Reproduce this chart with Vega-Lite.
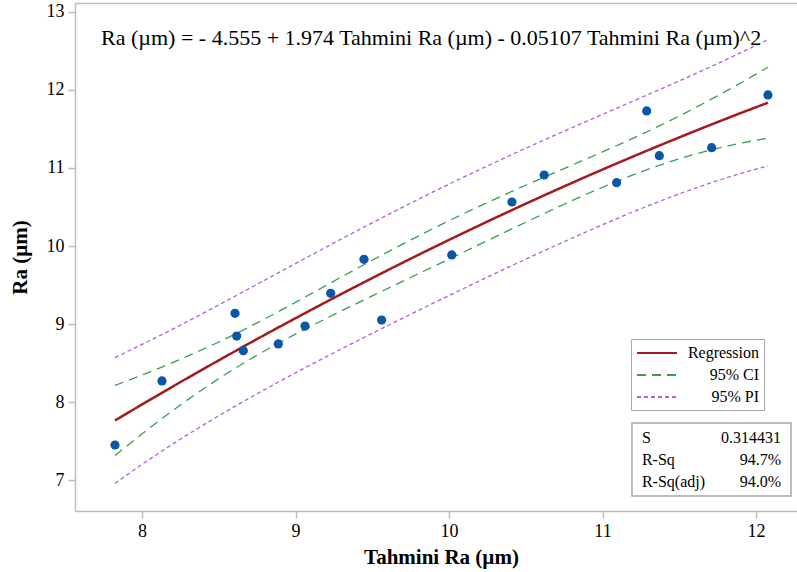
{
  "$schema": "https://vega.github.io/schema/vega-lite/v6.json",
  "width": 722,
  "height": 508,
  "autosize": {"type": "none"},
  "padding": {"left": 75, "top": 3, "right": 0, "bottom": 61},
  "background": "white",
  "config": {
    "font": "Liberation Serif, Times New Roman, serif",
    "view": {"stroke": null},
    "axis": {
      "grid": false, "domain": true, "domainColor": "#bcbcbc", "domainWidth": 1.5,
      "tickColor": "#bcbcbc", "tickWidth": 1.5, "tickSize": 7,
      "labelFont": "Liberation Serif, Times New Roman, serif", "labelFontSize": 18, "labelColor": "#000", "labelPadding": 4,
      "titleFont": "Liberation Serif, Times New Roman, serif", "titleFontSize": 21, "titleFontWeight": "bold", "titleColor": "#000"
    },
    "legend": {
      "orient": "none", "legendX": 556, "legendY": 336, "padding": 5,
      "strokeColor": "#a8a8a8", "fillColor": "white",
      "labelFont": "Liberation Serif, Times New Roman, serif", "labelFontSize": 16, "labelColor": "#000",
      "symbolType": "M-2.5,0H2.5", "symbolSize": 256, "symbolStrokeWidth": 2, "symbolOffset": 12,
      "labelAlign": "right", "labelOffset": 93, "rowPadding": 5
    }
  },
  "datasets": {
    "bands": [
      {"x": 7.824, "fit": 7.763, "ci_lo": 7.314, "ci_hi": 8.213, "pi_lo": 6.956, "pi_hi": 8.570},
      {"x": 7.9, "fit": 7.852, "ci_lo": 7.435, "ci_hi": 8.269, "pi_lo": 7.063, "pi_hi": 8.642},
      {"x": 8.0, "fit": 7.969, "ci_lo": 7.592, "ci_hi": 8.346, "pi_lo": 7.200, "pi_hi": 8.738},
      {"x": 8.125, "fit": 8.112, "ci_lo": 7.780, "ci_hi": 8.444, "pi_lo": 7.365, "pi_hi": 8.860},
      {"x": 8.25, "fit": 8.255, "ci_lo": 7.962, "ci_hi": 8.548, "pi_lo": 7.523, "pi_hi": 8.986},
      {"x": 8.5, "fit": 8.534, "ci_lo": 8.299, "ci_hi": 8.769, "pi_lo": 7.824, "pi_hi": 9.244},
      {"x": 8.75, "fit": 8.808, "ci_lo": 8.601, "ci_hi": 9.014, "pi_lo": 8.106, "pi_hi": 9.509},
      {"x": 9.0, "fit": 9.074, "ci_lo": 8.871, "ci_hi": 9.278, "pi_lo": 8.374, "pi_hi": 9.775},
      {"x": 9.25, "fit": 9.335, "ci_lo": 9.120, "ci_hi": 9.550, "pi_lo": 8.631, "pi_hi": 10.039},
      {"x": 9.5, "fit": 9.589, "ci_lo": 9.360, "ci_hi": 9.818, "pi_lo": 8.881, "pi_hi": 10.297},
      {"x": 9.75, "fit": 9.837, "ci_lo": 9.596, "ci_hi": 10.077, "pi_lo": 9.125, "pi_hi": 10.549},
      {"x": 10.0, "fit": 10.078, "ci_lo": 9.832, "ci_hi": 10.324, "pi_lo": 9.364, "pi_hi": 10.792},
      {"x": 10.25, "fit": 10.313, "ci_lo": 10.069, "ci_hi": 10.557, "pi_lo": 9.600, "pi_hi": 11.026},
      {"x": 10.5, "fit": 10.542, "ci_lo": 10.304, "ci_hi": 10.779, "pi_lo": 9.831, "pi_hi": 11.253},
      {"x": 10.75, "fit": 10.764, "ci_lo": 10.535, "ci_hi": 10.993, "pi_lo": 10.055, "pi_hi": 11.472},
      {"x": 11.0, "fit": 10.980, "ci_lo": 10.753, "ci_hi": 11.206, "pi_lo": 10.272, "pi_hi": 11.687},
      {"x": 11.25, "fit": 11.189, "ci_lo": 10.950, "ci_hi": 11.428, "pi_lo": 10.478, "pi_hi": 11.901},
      {"x": 11.5, "fit": 11.392, "ci_lo": 11.117, "ci_hi": 11.667, "pi_lo": 10.668, "pi_hi": 12.116},
      {"x": 11.75, "fit": 11.589, "ci_lo": 11.252, "ci_hi": 11.926, "pi_lo": 10.838, "pi_hi": 12.339},
      {"x": 11.875, "fit": 11.685, "ci_lo": 11.307, "ci_hi": 12.062, "pi_lo": 10.915, "pi_hi": 12.454},
      {"x": 12.0, "fit": 11.779, "ci_lo": 11.355, "ci_hi": 12.203, "pi_lo": 10.986, "pi_hi": 12.572},
      {"x": 12.078, "fit": 11.837, "ci_lo": 11.382, "ci_hi": 12.292, "pi_lo": 11.027, "pi_hi": 12.647}
    ],
    "points": [
      {"x": 7.824, "y": 7.449},
      {"x": 8.13, "y": 8.27},
      {"x": 8.606, "y": 9.137},
      {"x": 8.617, "y": 8.846},
      {"x": 8.66, "y": 8.658},
      {"x": 8.888, "y": 8.744},
      {"x": 9.062, "y": 8.974},
      {"x": 9.229, "y": 9.393},
      {"x": 9.446, "y": 9.829},
      {"x": 9.561, "y": 9.051},
      {"x": 10.018, "y": 9.885},
      {"x": 10.41, "y": 10.564},
      {"x": 10.62, "y": 10.91},
      {"x": 11.092, "y": 10.812},
      {"x": 11.288, "y": 11.731},
      {"x": 11.37, "y": 11.158},
      {"x": 11.711, "y": 11.26},
      {"x": 12.078, "y": 11.936}
    ]
  },
  "resolve": {"scale": {"stroke": "shared", "strokeDash": "shared", "x": "shared", "y": "shared"}, "axis": {"x": "independent"}},
  "layer": [
    {
      "data": {"name": "bands"},
      "mark": {"type": "line", "strokeWidth": 1.3, "interpolate": "monotone"},
      "encoding": {
        "x": {"field": "x", "type": "quantitative", "scale": {"domain": [7.5635, 12.2671], "nice": false, "zero": false}, "axis": {"values": [8, 9, 10, 11, 12], "format": "d", "title": "Tahmini Ra (µm)", "titlePadding": 6, "titleX": 366}},
        "y": {"field": "pi_lo", "type": "quantitative", "scale": {"domain": [6.603, 13.115], "nice": false, "zero": false}, "axis": {"values": [7, 8, 9, 10, 11, 12, 13], "format": "d", "title": "Ra (µm)", "titlePadding": 16}},
        "stroke": {"datum": "95% PI", "type": "nominal", "scale": {"domain": ["Regression", "95% CI", "95% PI"], "range": ["#a11b1f", "#3a9e4f", "#b25ede"]}, "legend": {"title": null}},
        "strokeDash": {"datum": "95% PI", "type": "nominal", "scale": {"domain": ["Regression", "95% CI", "95% PI"], "range": [[1, 0], [9, 6], [4, 3]]}, "legend": {"title": null}}
      }
    },
    {
      "data": {"name": "bands"},
      "mark": {"type": "line", "strokeWidth": 1.3, "interpolate": "monotone"},
      "encoding": {
        "x": {"field": "x", "type": "quantitative", "axis": null},
        "y": {"field": "pi_hi", "type": "quantitative"},
        "stroke": {"datum": "95% PI", "type": "nominal"},
        "strokeDash": {"datum": "95% PI", "type": "nominal"}
      }
    },
    {
      "data": {"name": "bands"},
      "mark": {"type": "line", "strokeWidth": 1.3, "interpolate": "monotone"},
      "encoding": {
        "x": {"field": "x", "type": "quantitative", "axis": null},
        "y": {"field": "ci_lo", "type": "quantitative"},
        "stroke": {"datum": "95% CI", "type": "nominal"},
        "strokeDash": {"datum": "95% CI", "type": "nominal"}
      }
    },
    {
      "data": {"name": "bands"},
      "mark": {"type": "line", "strokeWidth": 1.3, "interpolate": "monotone"},
      "encoding": {
        "x": {"field": "x", "type": "quantitative", "axis": null},
        "y": {"field": "ci_hi", "type": "quantitative"},
        "stroke": {"datum": "95% CI", "type": "nominal"},
        "strokeDash": {"datum": "95% CI", "type": "nominal"}
      }
    },
    {
      "data": {"name": "bands"},
      "mark": {"type": "line", "strokeWidth": 2.5, "interpolate": "monotone"},
      "encoding": {
        "x": {"field": "x", "type": "quantitative", "axis": null},
        "y": {"field": "fit", "type": "quantitative"},
        "stroke": {"datum": "Regression", "type": "nominal"},
        "strokeDash": {"datum": "Regression", "type": "nominal"}
      }
    },
    {
      "data": {"name": "points"},
      "mark": {"type": "circle", "size": 85, "color": "#0a57a8", "opacity": 1},
      "encoding": {
        "x": {"field": "x", "type": "quantitative", "axis": {"orient": "top", "labels": false, "ticks": false, "title": null}},
        "y": {"field": "y", "type": "quantitative"}
      }
    },
    {
      "data": {"values": [{}]},
      "mark": {"type": "text", "text": "Ra (µm) = - 4.555 + 1.974 Tahmini Ra (µm) - 0.05107 Tahmini Ra (µm)^2", "font": "Liberation Serif, Times New Roman, serif", "fontSize": 22, "align": "left", "baseline": "middle", "color": "#000"},
      "encoding": {"x": {"datum": 7.733, "type": "quantitative", "axis": null}, "y": {"datum": 12.667, "type": "quantitative"}}
    },
    {
      "data": {"values": [{}]},
      "mark": {"type": "rect", "fill": "white", "stroke": "#a8a8a8", "strokeWidth": 1.5},
      "encoding": {"x": {"datum": 11.192, "type": "quantitative", "axis": null}, "x2": {"datum": 12.228}, "y": {"datum": 6.795, "type": "quantitative"}, "y2": {"datum": 7.731}}
    },
    {
      "data": {"values": [{}]},
      "mark": {"type": "text", "text": ["S", "R-Sq", "R-Sq(adj)"], "lineHeight": 22, "font": "Liberation Serif, Times New Roman, serif", "fontSize": 16, "align": "left", "baseline": "top", "color": "#000"},
      "encoding": {"x": {"datum": 11.257, "type": "quantitative", "axis": null}, "y": {"datum": 7.641, "type": "quantitative"}}
    },
    {
      "data": {"values": [{}]},
      "mark": {"type": "text", "text": ["0.314431", "94.7%", "94.0%"], "lineHeight": 22, "font": "Liberation Serif, Times New Roman, serif", "fontSize": 16, "align": "right", "baseline": "top", "color": "#000"},
      "encoding": {"x": {"datum": 12.163, "type": "quantitative", "axis": null}, "y": {"datum": 7.641, "type": "quantitative"}}
    }
  ]
}
